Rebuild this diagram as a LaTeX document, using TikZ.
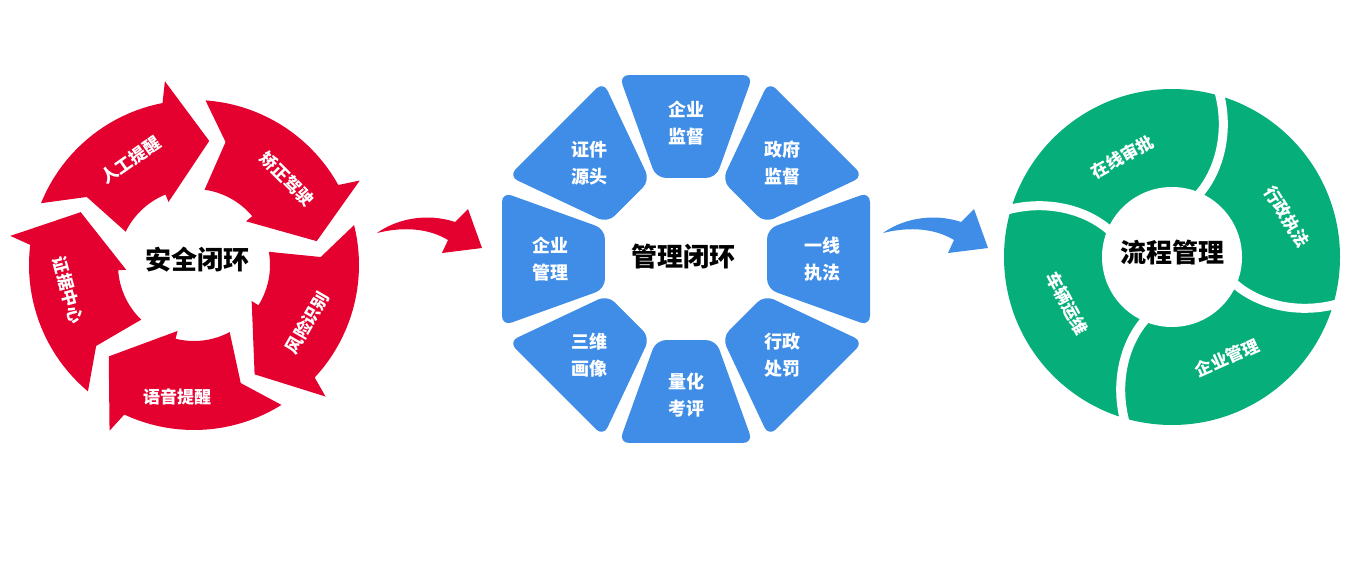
\documentclass[tikz,border=0pt]{standalone}
\usepackage{fontspec}
\newfontfamily\cjk{Noto Sans CJK SC}
\definecolor{cred}{HTML}{E4002F}
\definecolor{cblue}{HTML}{3F8DE6}
\definecolor{cgreen}{HTML}{06AF7A}
\tikzset{
  rlab/.style={text=white, inner sep=0pt, font=\cjk\bfseries\fontsize{17}{20}\selectfont},
  blab/.style={text=white, align=center, inner sep=0pt, font=\cjk\bfseries\fontsize{18}{27}\selectfont},
  ctitle/.style={text=black, inner sep=0pt, font=\cjk\bfseries\fontsize{26}{30}\selectfont},
  redarrow/.style={fill=cred},
  bluetrap/.style={fill=cblue, rounded corners=10pt},
  gapline/.style={draw=white, line width=9pt},
}
\begin{document}
\begin{tikzpicture}[x=1pt,y=-1pt]
\useasboundingbox (0,0) rectangle (1360,567);
\fill[white] (0,0) rectangle (1360,567);

% ---------- red cycle ----------
\begin{scope}[shift={(194,265)}]
\foreach \t in {242,314,26,98,170} {
  \path[redarrow] ({\t-40}:165)
    -- plot[domain={\t-40}:{\t+17}, samples=24, variable=\a] (\a:165)
    -- ({\t+19}:186) -- ({\t+35}:125) -- ({\t+6}:68)
    -- plot[domain={\t+6}:{\t-36}, samples=24, variable=\a] (\a:76)
    -- ({\t-29.6}:127) -- cycle;
}
\end{scope}
\node[rlab, rotate=35]  (r1) at (131,160) {人工提醒};
\node[rlab, rotate=-45] (r2) at (287,179) {矫正驾驶};
\node[rlab, rotate=60]  (r3) at (307,323) {风险识别};
\node[rlab]             (r4) at (177,397) {语音提醒};
\node[rlab, rotate=-75] (r5) at (68,290)  {证据中心};
\node[ctitle] (t1) at (197,260) {安全闭环};

% ---------- red connector ----------
\coordinate (ra) at (377,233);
\coordinate (rb) at (482,248);
\fill[cred] (ra) .. controls (395,220) and (425,212) .. (455,222) -- (468,209) -- (rb) -- (442,253) -- (448,240) .. controls (430,229) and (405,226) .. (ra);

% ---------- blue octagon ----------
\begin{scope}[shift={(686,259)}]
\foreach \a/\txt in {270/{企业\\监督}, 315/{政府\\监督}, 0/{一线\\执法}, 45/{行政\\处罚}, 90/{量化\\考评}, 135/{三维\\画像}, 180/{企业\\管理}, 225/{证件\\源头}} {
  \path[bluetrap] ({\a-20}:195.8) -- ({\a+20}:195.8) -- ({\a+20.3}:86.4) -- ({\a-20.3}:86.4) -- cycle;
  \node[blab] (b\a) at (\a:136) {\txt};
}
\end{scope}
\node[ctitle] (t2) at (683,257) {管理闭环};

% ---------- blue connector ----------
\coordinate (ba) at (883,233);
\coordinate (bb) at (988,248);
\fill[cblue] (ba) .. controls (901,220) and (931,212) .. (961,222) -- (974,209) -- (bb) -- (948,253) -- (954,240) .. controls (936,229) and (911,226) .. (ba);

% ---------- green ring ----------
\begin{scope}[shift={(1172,257)}]
\fill[cgreen] (0,0) circle[radius=168];
\foreach \t in {288,18,108,198} {
  \path[gapline] ({\t-3}:176) .. controls ({\t+7}:140) and ({\t+12}:95) .. ({\t+3}:62);
}
\fill[white] (0,0) circle[radius=70];
\end{scope}
\node[rlab, rotate=29]  (g1) at (1122,157) {在线审批};
\node[rlab, rotate=-58] (g2) at (1287,217) {行政执法};
\node[rlab, rotate=24]  (g3) at (1227,358) {企业管理};
\node[rlab, rotate=-62] (g4) at (1067,303) {车辆运维};
\node[ctitle] (t3) at (1172,253) {流程管理};
\end{tikzpicture}
\end{document}
